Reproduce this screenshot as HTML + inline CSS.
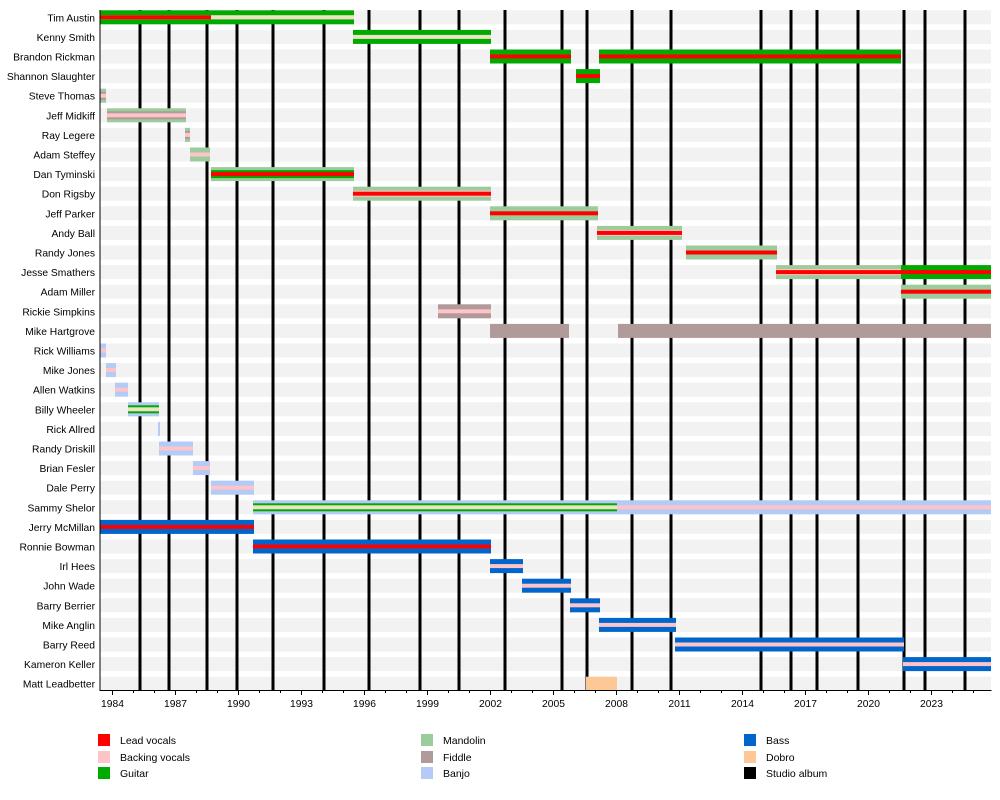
<!DOCTYPE html>
<html><head><meta charset="utf-8"><style>
body{margin:0;background:#fff;}
svg{display:block;font-family:"Liberation Sans",Arial,sans-serif;}
</style></head><body>
<svg id="s" width="1000" height="800" xmlns="http://www.w3.org/2000/svg"></svg>
<script>
const s=document.getElementById('s');let h='';
const C={lead:'#ff0000',back:'#ffc4c8',gtr:'#00aa00',man:'#9ccc9c',fid:'#b09a9a',ban:'#b4cbf7',bass:'#0066cc',dob:'#fdc895',beige:'#ece2c4'};
const names=["Tim Austin","Kenny Smith","Brandon Rickman","Shannon Slaughter","Steve Thomas","Jeff Midkiff","Ray Legere","Adam Steffey","Dan Tyminski","Don Rigsby","Jeff Parker","Andy Ball","Randy Jones","Jesse Smathers","Adam Miller","Rickie Simpkins","Mike Hartgrove","Rick Williams","Mike Jones","Allen Watkins","Billy Wheeler","Rick Allred","Randy Driskill","Brian Fesler","Dale Perry","Sammy Shelor","Jerry McMillan","Ronnie Bowman","Irl Hees","John Wade","Barry Berrier","Mike Anglin","Barry Reed","Kameron Keller","Matt Leadbetter"];
const cy=i=>17.3+i*19.6;
names.forEach((n,i)=>{h+=`<rect x="100" y="${cy(i)-7}" width="891" height="14" fill="#f2f2f2"/>`;});
[140,169,207,237,273,324,369,420,459,505,562,587,632,671,761,791,817,858,904,925,965].forEach(x=>{h+=`<rect x="${x-1.5}" y="10" width="3" height="680" fill="#000"/>`;});
const B=[
[0,100,354,[['gtr',14],['back',4]]],[0,100,211,[['lead',4]]],[0,211,354,[['beige',4]]],
[1,353,491,[['gtr',14],['beige',4]]],
[2,490,571,[['gtr',14],['lead',4]]],[2,599,901,[['gtr',14],['lead',4]]],
[3,576,600,[['gtr',14],['lead',4]]],
[4,100,106,[['man',14],['fid',8],['back',4]]],
[5,107,186,[['man',14],['fid',8],['back',4]]],
[6,185,190,[['man',14],['fid',8],['back',4]]],
[7,190,210,[['man',14],['back',4]]],
[8,211,354,[['man',14],['gtr',8],['lead',4]]],
[9,353,491,[['man',14],['back',6],['lead',4]]],
[10,490,598,[['man',14],['lead',4]]],
[11,597,682,[['man',14],['back',6],['lead',4]]],
[12,686,777,[['man',14],['lead',4]]],
[13,776,901,[['man',14],['back',6],['lead',4]]],[13,901,991,[['gtr',14],['lead',4]]],
[14,901,991,[['man',14],['lead',4]]],
[15,438,491,[['fid',14],['back',4]]],
[16,490,569,[['fid',14]]],[16,618,991,[['fid',14]]],
[17,100,106,[['ban',14],['back',4]]],
[18,106,116,[['ban',14],['back',4]]],
[19,115,128,[['ban',14],['back',4]]],
[20,128,159,[['ban',14],['gtr',8],['beige',4]]],
[21,158,160,[['ban',14]]],
[22,159,193,[['ban',14],['back',4]]],
[23,193,210,[['ban',14],['back',4]]],
[24,211,254,[['ban',14],['back',4]]],
[25,253,617,[['ban',14],['gtr',8],['beige',4]]],[25,617,991,[['ban',14],['back',4]]],
[26,100,254,[['bass',14],['lead',4]]],
[27,253,491,[['bass',14],['lead',4]]],
[28,490,523,[['bass',14],['back',4]]],
[29,522,571,[['bass',14],['back',4]]],
[30,570,600,[['bass',14],['back',4]]],
[31,599,676,[['bass',14],['back',4]]],
[32,675,904,[['bass',14],['back',4]]],
[33,903,991,[['bass',14],['back',4]]],
[34,586,617,[['dob',14]]]
];
B.forEach(([r,x1,x2,L])=>{const c=cy(r);L.forEach(([k,t])=>{h+=`<rect x="${x1}" y="${c-t/2}" width="${x2-x1}" height="${t}" fill="${C[k]}"/>`;});});
names.forEach((n,i)=>{h+=`<text x="95" y="${cy(i)+4}" font-size="10.3" text-anchor="end" fill="#000">${n}</text>`;});
h+=`<rect x="99.5" y="10" width="1" height="681" fill="#000"/><rect x="99.5" y="690" width="892" height="1" fill="#000"/>`;
for(let y=1984;y<=2025;y++){const x=112.5+(y-1984)*21;const maj=(y-1984)%3==0;h+=`<rect x="${x-0.5}" y="690" width="1" height="${maj?5:3}" fill="#000"/>`;if(maj)h+=`<text x="${x}" y="707" font-size="10.3" text-anchor="middle">${y}</text>`;}
const LG=[[98,740,'lead','Lead vocals'],[98,757,'back','Backing vocals'],[98,773,'gtr','Guitar'],[421,740,'man','Mandolin'],[421,757,'fid','Fiddle'],[421,773,'ban','Banjo'],[744,740,'bass','Bass'],[744,757,'dob','Dobro'],[744,773,'#000','Studio album']];
LG.forEach(([x,y,k,t])=>{h+=`<rect x="${x}" y="${y-6}" width="12" height="12" fill="${C[k]||k}"/><text x="${x+22}" y="${y+4}" font-size="10.5">${t}</text>`;});
s.innerHTML=h;
</script>
</body></html>
